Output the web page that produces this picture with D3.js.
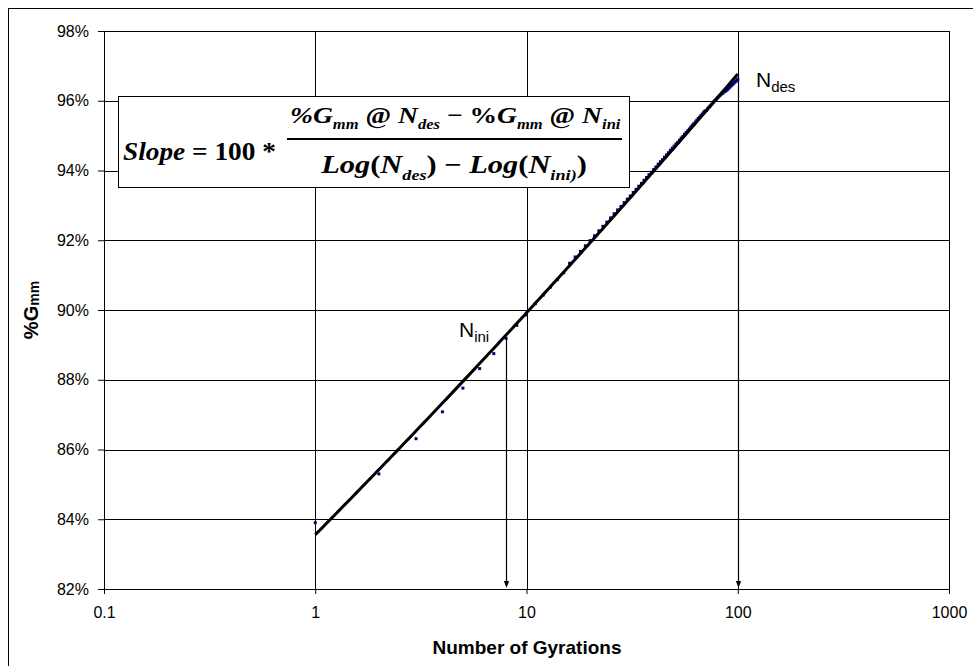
<!DOCTYPE html>
<html>
<head>
<meta charset="utf-8">
<script src="https://cdn.jsdelivr.net/npm/d3@7"></script>
<style>
  html, body { margin: 0; padding: 0; background: #fff; }
  svg { display: block; font-family: "Liberation Sans", Arial, sans-serif; }
</style>
</head>
<body>
<script>
// Gyratory compaction: %Gmm measured at every gyration, 1 to 100
const gyrations = [
  1, 2, 3, 4, 5, 6, 7, 8, 9, 10,
  11, 12, 13, 14, 15, 16, 17, 18, 19, 20,
  21, 22, 23, 24, 25, 26, 27, 28, 29, 30,
  31, 32, 33, 34, 35, 36, 37, 38, 39, 40,
  41, 42, 43, 44, 45, 46, 47, 48, 49, 50,
  51, 52, 53, 54, 55, 56, 57, 58, 59, 60,
  61, 62, 63, 64, 65, 66, 67, 68, 69, 70,
  71, 72, 73, 74, 75, 76, 77, 78, 79, 80,
  81, 82, 83, 84, 85, 86, 87, 88, 89, 90,
  91, 92, 93, 94, 95, 96, 97, 98, 99, 100
];
const gmmPercent = [
  83.90, 85.30, 86.31, 87.08, 87.76, 88.32, 88.75, 89.19, 89.56, 89.86,
  90.18, 90.43, 90.66, 90.87, 91.07, 91.34, 91.52, 91.68, 91.84, 91.99,
  92.13, 92.27, 92.40, 92.52, 92.64, 92.76, 92.87, 92.97, 93.08, 93.18,
  93.27, 93.37, 93.46, 93.55, 93.63, 93.72, 93.80, 93.88, 93.95, 94.03,
  94.10, 94.18, 94.25, 94.31, 94.38, 94.45, 94.51, 94.58, 94.64, 94.70,
  94.76, 94.81, 94.87, 94.93, 94.98, 95.04, 95.09, 95.14, 95.19, 95.25,
  95.30, 95.34, 95.39, 95.44, 95.49, 95.53, 95.58, 95.62, 95.67, 95.71,
  95.72, 95.77, 95.81, 95.85, 95.89, 95.93, 95.97, 96.01, 96.04, 96.08,
  96.11, 96.14, 96.17, 96.20, 96.22, 96.25, 96.27, 96.29, 96.31, 96.34,
  96.37, 96.40, 96.43, 96.46, 96.48, 96.51, 96.54, 96.56, 96.59, 96.62
];

// Axis ticks
const xTicks = [0.1, 1, 10, 100, 1000];
const xTickLabels = ["0.1", "1", "10", "100", "1000"];
const yTicks = [82, 84, 86, 88, 90, 92, 94, 96, 98];

// Marked gyration levels: N_ini and N_des
const markers = [
  { name: "ini", n: 8 },
  { name: "des", n: 100 }
];

const W = 973, H = 666;
const svg = d3.select("body").append("svg").attr("width", W).attr("height", H);
svg.append("rect").attr("width", W).attr("height", H).attr("fill", "#fff");

// chart frame
svg.append("rect")
  .attr("x", 8.5).attr("y", 8.5).attr("width", 1000).attr("height", 700)
  .attr("fill", "none").attr("stroke", "#000").attr("stroke-width", 1);

const x = d3.scaleLog().domain([0.1, 1000]).range([104, 949]);
const y = d3.scaleLinear().domain([82, 98]).range([589, 31]);
const px = v => Math.round(v) + 0.5;

// gridlines
const grid = svg.append("g");
grid.selectAll("line.h").data(yTicks).join("line")
  .attr("x1", x(0.1)).attr("x2", x(1000))
  .attr("y1", d => px(y(d))).attr("y2", d => px(y(d)))
  .attr("stroke", "#000").attr("stroke-width", 1);
grid.selectAll("line.v").data(xTicks).join("line")
  .attr("x1", d => px(x(d))).attr("x2", d => px(x(d)))
  .attr("y1", y(98)).attr("y2", y(82))
  .attr("stroke", "#000").attr("stroke-width", 1);

// axes
const yAxis = svg.append("g")
  .attr("transform", `translate(${Math.round(x(0.1))},0)`)
  .call(d3.axisLeft(y).tickValues(yTicks).tickFormat(d => d + "%")
    .tickSize(6).tickSizeOuter(0).tickPadding(9));
const xAxis = svg.append("g")
  .attr("transform", `translate(0,${Math.round(y(82))})`)
  .call(d3.axisBottom(x).tickValues(xTicks).tickFormat((d, i) => xTickLabels[i])
    .tickSize(5).tickSizeOuter(0).tickPadding(13));
[yAxis, xAxis].forEach(a => {
  a.selectAll("text").attr("font-family", "Liberation Sans, Arial, sans-serif")
    .attr("font-size", 16).attr("fill", "#000");
  a.selectAll("line, path").attr("stroke", "#000");
});

// power-law trend line fitted to the measured points (least squares in log-log space)
const lx = gyrations.map(Math.log), ly = gmmPercent.map(Math.log);
const mx = d3.mean(lx), my = d3.mean(ly);
const b = d3.sum(lx, (v, i) => (v - mx) * (ly[i] - my)) / d3.sum(lx, v => (v - mx) * (v - mx));
const a = Math.exp(my - b * mx);
const fit = n => a * Math.pow(n, b);

// measured points
svg.append("g").selectAll("rect").data(gyrations).join("rect")
  .attr("x", (d) => x(d) - 1.5).attr("y", (d, i) => y(gmmPercent[i]) - 1.5)
  .attr("width", 3).attr("height", 3).attr("fill", "#000080");

// trend line
const trendN = d3.range(0, 201).map(k => Math.pow(10, k / 100));
svg.append("path")
  .datum(trendN)
  .attr("d", d3.line().x(d => x(d)).y(d => y(fit(d))))
  .attr("fill", "none").attr("stroke", "#000").attr("stroke-width", 3)
  .attr("stroke-linecap", "butt");

// arrows from the curve down to the gyration axis
const arrows = svg.append("g");
markers.forEach(m => {
  const ax = px(x(m.n));
  const top = m.name === "ini" ? y(gmmPercent[gyrations.indexOf(m.n)]) : y(fit(m.n));
  const tip = y(82) - 1;
  arrows.append("line").attr("x1", ax).attr("x2", ax).attr("y1", top).attr("y2", tip - 5)
    .attr("stroke", "#000").attr("stroke-width", 1.2);
  arrows.append("path")
    .attr("d", `M${ax - 2.6},${tip - 7}L${ax + 2.6},${tip - 7}L${ax},${tip}Z`)
    .attr("fill", "#000");
});

// N labels
function nLabel(xLeft, baseline, sub) {
  const t = svg.append("text").attr("x", xLeft).attr("y", baseline)
    .attr("font-size", 21).attr("fill", "#000");
  t.append("tspan").text("N");
  t.append("tspan").attr("font-size", 15).attr("dy", 5).text(sub);
}
nLabel(459, 337, "ini");
nLabel(756, 87, "des");

// axis titles
svg.append("text").attr("x", 527).attr("y", 654).attr("text-anchor", "middle")
  .attr("font-size", 19).attr("font-weight", "bold").attr("fill", "#000")
  .text("Number of Gyrations");

const yt = svg.append("text").attr("transform", "translate(38,310) rotate(-90)")
  .attr("text-anchor", "middle").attr("font-size", 20).attr("font-weight", "bold").attr("fill", "#000");
yt.append("tspan").text("%G");
yt.append("tspan").attr("font-size", 14).attr("dy", 1).text("mm");

// slope formula box
svg.append("rect").attr("x", 118.5).attr("y", 96.5).attr("width", 511).attr("height", 91)
  .attr("fill", "#fff").attr("stroke", "#000").attr("stroke-width", 1);

const serif = "'Liberation Serif', 'Times New Roman', serif";
function richText(xLeft, baseline, width, size, parts) {
  const t = svg.append("text").style("font-family", serif).attr("font-weight", "bold")
    .attr("font-size", size).attr("fill", "#000");
  let shifted = false;
  parts.forEach(p => {
    const s = t.append("tspan").text(p.t).attr("font-style", p.it ? "italic" : "normal");
    if (p.sub) {
      s.attr("font-size", size * 0.6);
      if (!shifted) { s.attr("dy", size * 0.28); shifted = true; }
    } else if (shifted) {
      s.attr("dy", -size * 0.28); shifted = false;
    }
  });
  const bb = t.node().getBBox();
  const k = width / bb.width;
  t.attr("transform", `translate(${xLeft},${baseline}) scale(${k},1) translate(${-bb.x},0)`);
  return t;
}

richText(123, 160, 153, 26, [
  { t: "Slope", it: true }, { t: " = 100 * " }
]);
richText(290, 123, 331, 23, [
  { t: "%G", it: true }, { t: "mm", it: true, sub: true },
  { t: " @ " }, { t: "N", it: true }, { t: "des", it: true, sub: true },
  { t: " \u2212 %" }, { t: "G", it: true }, { t: "mm", it: true, sub: true },
  { t: " @ " }, { t: "N", it: true }, { t: "ini", it: true, sub: true }
]);
svg.append("line").attr("x1", 287).attr("x2", 622).attr("y1", 139).attr("y2", 139)
  .attr("stroke", "#000").attr("stroke-width", 2);
richText(320, 173, 267, 25, [
  { t: "Log", it: true }, { t: "(" }, { t: "N", it: true }, { t: "des", it: true, sub: true },
  { t: ") \u2212 " }, { t: "Log", it: true }, { t: "(" }, { t: "N", it: true },
  { t: "ini)", it: true, sub: true }, { t: ")" }
]);
</script>
</body>
</html>
